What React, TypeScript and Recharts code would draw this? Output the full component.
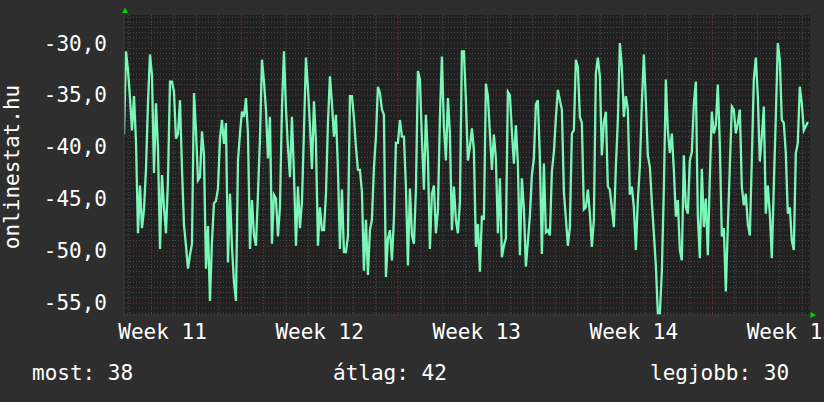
import React from 'react';
import { LineChart, Line, XAxis, YAxis, CartesianGrid } from 'recharts';

// signal level (dBm), one reading every ~2.14 hours
const part1 = [
  -38.8, -30.8, -32.6, -35.3, -38.4, -35.1, -39.5, -48.3, -43.7, -47.8,
  -46.0, -42.1, -35.8, -31.1, -33.1, -42.5, -35.8, -40.1, -49.8, -42.7,
  -45.8, -48.3, -43.2, -33.7, -33.7, -34.7, -39.2, -38.7, -35.5, -42.1,
  -47.5, -49.5, -51.7, -50.4, -49.3, -34.8, -38.4, -43.2, -42.9, -38.5,
  -40.8, -51.7, -47.6, -54.8, -49.1, -45.4, -45.2, -44.0, -39.2, -37.4,
  -39.7, -37.7, -51.1, -44.5, -49.6, -53.0,
];
const part2 = [
  -54.8, -41.3, -38.7, -36.6, -37.1, -35.3, -38.7, -49.8, -45.1, -48.5,
  -49.5, -44.5, -39.2, -31.6, -33.7, -36.4, -41.1, -37.1, -49.3, -44.6,
  -44.95, -48.6, -45.8, -36.3, -30.8, -36.3, -40.0, -42.9, -37.1, -42.5,
  -49.5, -43.8, -47.8, -45.3, -38.5, -31.4, -34.3, -37.9, -42.1, -35.6,
  -39.5, -49.5, -45.8, -48.0, -48.0, -44.6, -37.7, -33.2, -35.8, -39.0,
  -36.9, -42.1, -49.8, -44.1, -50.1, -50.1, -48.6,
];
const part3 = [
  -35.1, -35.1, -37.2, -40.0, -42.2, -42.2, -44.3, -51.9, -47.0, -52.3,
  -48.0, -47.0, -42.0, -39.0, -34.2, -34.8, -36.4, -36.9, -52.5, -48.8,
  -48.0, -50.9, -46.9, -39.6, -39.6, -37.4, -39.0, -39.0, -43.8, -51.4,
  -44.0, -48.5, -49.3, -44.1, -32.7, -33.5, -39.2, -44.1, -36.9, -40.9,
  -49.8, -44.5, -43.7, -48.3, -46.1, -37.2, -31.3, -38.0, -41.3, -35.3,
  -38.7, -48.0, -43.8, -47.0, -48.3, -45.3, -30.8,
];
const part4 = [
  -30.8, -35.5, -41.3, -40.0, -38.2, -40.3, -49.6, -47.4, -52.0, -46.6,
  -47.0, -33.9, -35.1, -38.7, -42.2, -38.8, -41.1, -48.3, -43.0, -50.6,
  -49.5, -48.8, -34.7, -35.0, -38.5, -41.6, -37.9, -41.6, -50.4, -43.0,
  -45.9, -51.5, -49.1, -46.6, -42.7, -41.1, -35.9, -35.5, -41.1, -50.3,
  -41.6, -48.2, -48.0, -48.5, -42.4, -40.5, -37.2, -34.5, -35.5, -36.4,
  -44.3, -46.9, -49.5, -47.7, -38.7, -38.4, -31.6,
];
const part5 = [
  -32.3, -37.1, -37.7, -46.0, -45.8, -44.1, -46.4, -49.6, -47.0, -32.9,
  -31.4, -33.2, -40.8, -37.6, -36.6, -43.8, -44.1, -45.9, -47.7, -41.9,
  -37.4, -30.0, -32.3, -37.1, -35.1, -36.4, -44.6, -43.8, -45.8, -49.9,
  -45.1, -41.9, -35.8, -31.1, -35.6, -40.8, -41.9, -45.3, -48.3, -51.4,
  -56.0, -56.0, -52.0, -44.1, -33.5, -38.4, -40.6, -38.7, -42.2, -46.7,
  -45.1, -49.9, -50.9, -40.8, -45.8, -46.4, -41.3,
];
const part6 = [
  -40.5, -35.9, -33.7, -46.7, -50.7, -42.1, -47.7, -44.95, -50.4, -42.9,
  -36.6, -38.7, -37.9, -34.0, -39.8, -48.6, -47.8, -53.9, -47.7, -41.9,
  -36.1, -36.4, -38.7, -37.7, -36.4, -43.8, -45.6, -44.5, -47.4, -48.5,
  -41.3, -33.5, -31.4, -35.1, -41.4, -39.0, -36.1, -46.4, -43.7, -46.4,
  -50.7, -43.7, -37.1, -30.0, -31.6, -37.4, -37.7, -40.6, -46.4, -45.8,
  -49.0, -49.9, -40.6, -39.6, -34.2, -35.8, -38.4, -38.0, -37.6,
];

const SAMPLE_DAYS = 0.0891; // time between readings, in days
const X_END = 30.57;

const weekLabels = ['Week 11', 'Week 12', 'Week 13', 'Week 14', 'Week 15'];
const weekLabelPos = [1.72, 8.72, 15.72, 22.72, 29.72];
const weekStarts = [5.22, 12.22, 19.22, 26.22];
const yTicks = [-55, -50, -45, -40, -35, -30];

const legend = { most: 38, atlag: 42, legjobb: 30 };

const values = [...part1, ...part2, ...part3, ...part4, ...part5, ...part6];
const data = values.map((v, i) => ({ t: i * SAMPLE_DAYS, v }));

// grid: a dotted line every day / every 0.5 dB, red on weeks / every 5 dB
const dayLines: number[] = [];
for (let d = 0.22; d < X_END; d += 1) {
  if (!weekStarts.some((w) => Math.abs(w - d) < 0.01)) dayLines.push(d);
}
const minorY: number[] = [];
for (let y = -56; y <= -27.5; y += 0.5) {
  if (y % 5 !== 0) minorY.push(y);
}

const FONT = '"DejaVu Sans Mono", monospace';
const txt = { fill: '#ffffff', fontSize: 21, fontFamily: FONT };

export default function App() {
  return (
    <div
      style={{
        position: 'absolute',
        left: 0,
        top: 0,
        width: 824,
        height: 402,
        background: '#2e2e2e',
        overflow: 'hidden',
      }}
    >
      <LineChart
        width={824}
        height={402}
        data={data}
        margin={{ top: 15, right: 14, bottom: 57, left: 24 }}
      >
        <CartesianGrid
          fill="#212121"
          stroke="#4d4d4d"
          strokeDasharray="1 2"
          horizontalValues={minorY}
          verticalValues={dayLines}
        />
        <CartesianGrid
          stroke="#7a2e2e"
          strokeDasharray="1 2"
          horizontalValues={yTicks}
          verticalValues={weekStarts}
        />
        <XAxis
          type="number"
          dataKey="t"
          domain={[0, X_END]}
          allowDataOverflow
          ticks={weekLabelPos}
          interval={0}
          tickFormatter={(_v: number, i: number) => weekLabels[i]}
          height={30}
          axisLine={{ stroke: '#404040' }}
          tickLine={false}
          tickSize={0}
          tickMargin={9}
          tick={txt}
        />
        <YAxis
          type="number"
          domain={[-56.16, -27.3]}
          allowDataOverflow
          ticks={yTicks}
          interval={0}
          tickFormatter={(v: number) => v.toFixed(1).replace('.', ',')}
          width={100}
          axisLine={{ stroke: '#3a3a3a' }}
          tickLine={false}
          tickSize={0}
          tickMargin={17}
          tick={txt}
        />
        <Line
          type="linear"
          dataKey="v"
          stroke="#7af7b8"
          strokeWidth={2.3}
          dot={false}
          isAnimationActive={false}
        />
      </LineChart>
      <svg
        width={824}
        height={402}
        style={{ position: 'absolute', left: 0, top: 0, pointerEvents: 'none' }}
      >
        <polygon points="122,13 128,13 125,7.5" fill="#00d000" />
        <polygon points="810.5,312 816,315 810.5,318" fill="#00d000" />
        <text
          {...txt}
          x={19}
          y={167}
          textAnchor="middle"
          transform="rotate(-90 19 167)"
        >
          onlinestat.hu
        </text>
        <text {...txt} x={32} y={380}>
          most: {legend.most}
        </text>
        <text {...txt} x={333} y={380}>
          átlag: {legend.atlag}
        </text>
        <text {...txt} x={650} y={380}>
          legjobb: {legend.legjobb}
        </text>
      </svg>
    </div>
  );
}
